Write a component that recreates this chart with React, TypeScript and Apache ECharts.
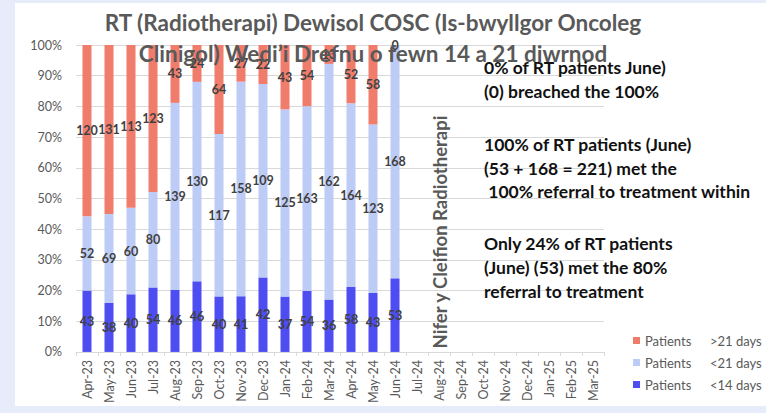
import React, { useEffect, useRef } from "react";
import * as echarts from "echarts";

const months = [
  "Apr-23", "May-23", "Jun-23", "Jul-23", "Aug-23", "Sep-23", "Oct-23", "Nov-23",
  "Dec-23", "Jan-24", "Feb-24", "Mar-24", "Apr-24", "May-24", "Jun-24", "Jul-24",
  "Aug-24", "Sep-24", "Oct-24", "Nov-24", "Dec-24", "Jan-25", "Feb-25", "Mar-25",
];
const under14: (number | null)[] = [43, 38, 40, 54, 46, 46, 40, 41, 42, 37, 54, 36, 58, 43, 53, null, null, null, null, null, null, null, null, null];
const under21: (number | null)[] = [52, 69, 60, 80, 139, 130, 117, 158, 109, 125, 163, 162, 164, 123, 168, null, null, null, null, null, null, null, null, null];
const over21: (number | null)[] = [120, 131, 113, 123, 43, 24, 64, 27, 22, 43, 54, 13, 52, 58, 0, null, null, null, null, null, null, null, null, null];
const yTicks = [0, 10, 20, 30, 40, 50, 60, 70, 80, 90, 100];

const seriesNames = ["Patients >21 days", "Patients <21 days", "Patients <14 days"];
const titleLines = [
  "RT (Radiotherapi) Dewisol COSC (Is-bwyllgor Oncoleg",
  "Clinigol) Wedi\u2019i Drefnu o fewn 14 a 21 diwrnod",
];
const notes = [
  "0% of RT patients June)",
  "(0) breached the 100%",
  "100% of RT patients (June)",
  "(53 + 168 = 221) met the",
  " 100% referral to treatment within",
  "Only 24% of RT patients",
  "(June) (53) met the 80%",
  "referral to treatment",
];
const yName = "Nifer y Cleifion Radiotherapi";

const FONT = "Lato, 'Open Sans', sans-serif";

export default function App() {
  const ref = useRef<HTMLDivElement>(null);
  useEffect(() => {
    document.body.style.margin = "0";
    if (!ref.current) return;
    const chart = echarts.init(ref.current, null, { renderer: "svg" });
    const totals = months.map((_, i) =>
      under14[i] == null ? null : (under14[i] as number) + (under21[i] as number) + (over21[i] as number)
    );
    const pct = (arr: (number | null)[]) =>
      arr.map((v, i) => (v == null || totals[i] == null ? "-" : (v / (totals[i] as number)) * 100));
    const mk = (name: string, raw: (number | null)[], color: string) => ({
      name,
      type: "bar",
      stack: "all",
      barWidth: 9,
      data: pct(raw),
      itemStyle: { color },
      label: {
        show: true,
        position: "inside",
        formatter: (p: any) => (raw[p.dataIndex] == null ? "" : String(raw[p.dataIndex])),
        color: "#404040",
        fontWeight: "bold",
        fontSize: 12.5,
        fontFamily: FONT,
      },
    });
    const noteYs = [64, 88, 141, 165, 188, 240, 264, 288];
    chart.setOption({
      animation: false,
      textStyle: { fontFamily: FONT },
      grid: { left: 61, right: 162, top: 42, bottom: 54 },
      legend: {
        orient: "vertical",
        left: 618,
        top: 331,
        padding: 0,
        itemWidth: 7,
        itemHeight: 7,
        itemGap: 9,
        icon: "rect",
        data: [seriesNames[0], seriesNames[1], seriesNames[2]],
        formatter: (n: string) => {
          const parts = n.split(" ");
          return `{a|${parts[0]}}{b|${parts.slice(1).join(" ")}}`;
        },
        textStyle: {
          color: "#595959",
          fontSize: 13,
          fontFamily: FONT,
          rich: {
            a: { width: 65, fontSize: 13, color: "#595959", fontFamily: FONT },
            b: { fontSize: 13, color: "#595959", fontFamily: FONT },
          },
        },
      },
      xAxis: {
        type: "category",
        data: months,
        axisLine: { lineStyle: { color: "#d9d9d9" } },
        axisTick: { show: true, length: 4, lineStyle: { color: "#d9d9d9" } },
        axisLabel: { rotate: 90, interval: 0, color: "#595959", fontSize: 12.5, margin: 8, fontFamily: FONT },
      },
      yAxis: {
        type: "value",
        min: 0,
        max: 100,
        interval: 10,
        axisLabel: {
          color: "#595959",
          fontSize: 12.5,
          margin: 14,
          fontFamily: FONT,
          formatter: (v: number) => (yTicks.includes(v) ? `${v}%` : ""),
        },
        splitLine: { lineStyle: { color: "#d9d9d9" } },
        axisLine: { show: false },
        axisTick: { show: false },
      },
      graphic: [
        ...titleLines.map((t, i) => ({
          type: "text",
          x: 358,
          y: i === 0 ? 19 : 50,
          z: 100,
          style: {
            text: t,
            fill: "#595959",
            font: `bold 22.5px ${FONT}`,
            textAlign: "center",
            textVerticalAlign: "middle",
          },
        })),
        ...notes.map((t, i) => ({
          type: "text",
          x: 469,
          y: noteYs[i],
          z: 100,
          style: {
            text: t,
            fill: "#111111",
            font: `bold 17.5px ${FONT}`,
            textAlign: "left",
            textVerticalAlign: "middle",
          },
        })),
        {
          type: "text",
          x: 425,
          y: 229,
          rotation: Math.PI / 2,
          z: 100,
          style: {
            text: yName,
            fill: "#595959",
            font: `bold 18.5px ${FONT}`,
            textAlign: "center",
            textVerticalAlign: "middle",
          },
        },
      ],
      series: [
        mk(seriesNames[2], under14, "#4D4DF2"),
        mk(seriesNames[1], under21, "#BDCCF6"),
        mk(seriesNames[0], over21, "#F07C6C"),
      ],
    });
    return () => chart.dispose();
  }, []);
  return (
    <div style={{ position: "relative", width: 766, height: 413, background: "#E6ECFA" }}>
      <div
        ref={ref}
        style={{ position: "absolute", left: 15, top: 3, width: 751, height: 403, background: "#ffffff" }}
      />
    </div>
  );
}
